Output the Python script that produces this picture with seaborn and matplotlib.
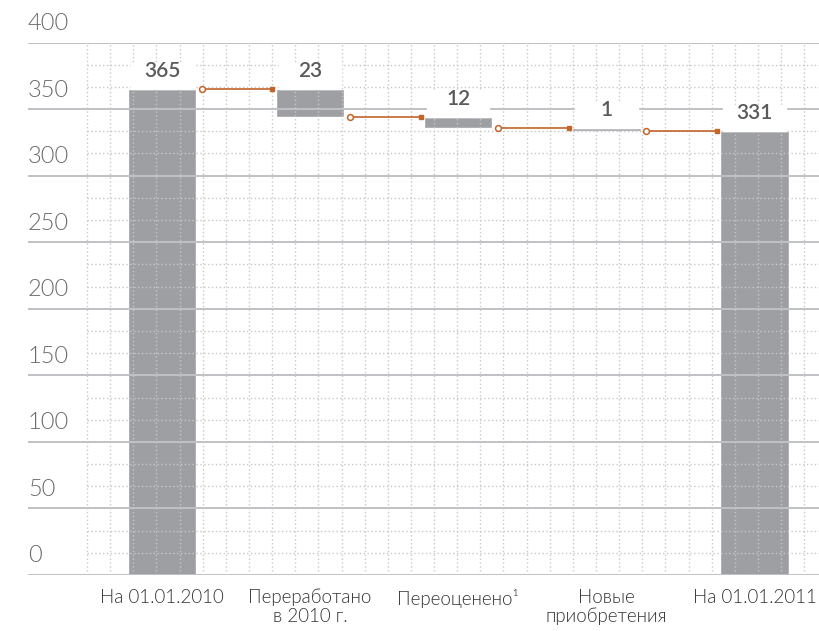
import numpy as np
import pandas as pd
import matplotlib
matplotlib.use("Agg")
import matplotlib.pyplot as plt
import matplotlib.transforms as mtransforms
import seaborn as sns

# ---------------- data ----------------
categories = ["На 01.01.2010", "Переработано\nв 2010 г.", "Переоценено¹",
              "Новые\nприобретения", "На 01.01.2011"]
value_labels = ["365", "23", "12", "1", "331"]
start_total = 365
drawn_changes = [-20.7, -8.3, -2.2]     # bar heights of the floating steps as drawn
end_total = 333.5
y_ticks = [0, 50, 100, 150, 200, 250, 300, 350, 400]

# ---------------- derived waterfall geometry ----------------
levels = [start_total]
for c in drawn_changes:
    levels.append(levels[-1] + c)
bottoms = [0] + [min(levels[i], levels[i + 1]) for i in range(len(drawn_changes))] + [0]
heights = [start_total] + [abs(c) for c in drawn_changes] + [end_total]
tops = [b + h for b, h in zip(bottoms, heights)]

# ---------------- style ----------------
sns.set_style("white")
plt.rcParams["font.family"] = ["Lato", "Open Sans", "DejaVu Sans"]

BAR = "#9d9fa3"
GRID = "#c0c1c5"
DOT = "#c8c8c8"
ORANGE = "#c2652a"

fig = plt.figure(figsize=(8.19, 6.31), dpi=100)
ax = fig.add_axes([28 / 819, 56 / 631, 791 / 819, 532.5 / 631])

df = pd.DataFrame({"cat": categories, "height": heights})
sns.barplot(data=df, x="cat", y="height", order=categories, bottom=bottoms,
            color=BAR, saturation=1, width=0.46, ax=ax, zorder=1)

XMIN, XMAX = -0.905, 4.435
ax.set_xlim(XMIN, XMAX)
ax.set_ylim(0, 400)
for s in ax.spines.values():
    s.set_visible(False)
ax.set_xlabel("")
ax.set_ylabel("")
ax.set_yticks([])

# solid major grid lines
for t in y_ticks:
    ax.axhline(t, color=GRID, lw=1.4, zorder=2)

# dotted minor grid
minor = [t + k * 50 / 3 for t in y_ticks[:-1] for k in (1, 2)]
ax.hlines(minor, xmin=-0.506, xmax=XMAX, colors=DOT, lw=1.0,
          linestyles=(0, (1, 1.8)), zorder=2)
vx = np.linspace(-0.506, 4.335, 32)
ax.vlines(vx, 0, 400, colors=DOT, lw=1.0, linestyles=(0, (1, 1.8)), zorder=2)

# y tick labels placed above the lines, left-aligned
ytrans = mtransforms.offset_copy(ax.get_yaxis_transform(), fig=fig, x=0, y=12.5, units="dots")
for t in y_ticks:
    ax.text(0, t, str(t), transform=ytrans, ha="left", va="baseline",
            fontsize=17, fontweight=300, color="#6a6a6a")

# x category labels
ax.set_xticks(range(len(categories)))
ax.set_xticklabels(categories, fontsize=13.5, fontweight=300, color="#333333",
                   linespacing=1.1)
ax.tick_params(axis="x", length=0, pad=10)

# white label boxes that interrupt the grid
box_h = [19.5] * len(tops)
ax.bar(range(len(tops)), box_h, bottom=tops, width=0.42, color="white", zorder=3)

# value labels
for i, (top, lab) in enumerate(zip(tops, value_labels)):
    ax.text(i, top + 9, lab, ha="center", va="baseline", fontsize=15,
            fontweight="semibold", color="#5a5a5d", zorder=5)

# connectors
for i in range(len(categories) - 1):
    lvl = levels[i]
    xs = [i + 0.27, i + 0.745]
    ax.plot(xs, [lvl, lvl], color=ORANGE, lw=1.2, zorder=4, solid_capstyle="butt")
    ax.plot(xs[0], lvl, marker="o", ms=4.2, mfc="white", mec=ORANGE, mew=1.1, zorder=5)
    ax.plot(xs[1], lvl, marker="s", ms=3, color=ORANGE, mec=ORANGE, zorder=5)

fig.savefig("out.png", dpi=100)
